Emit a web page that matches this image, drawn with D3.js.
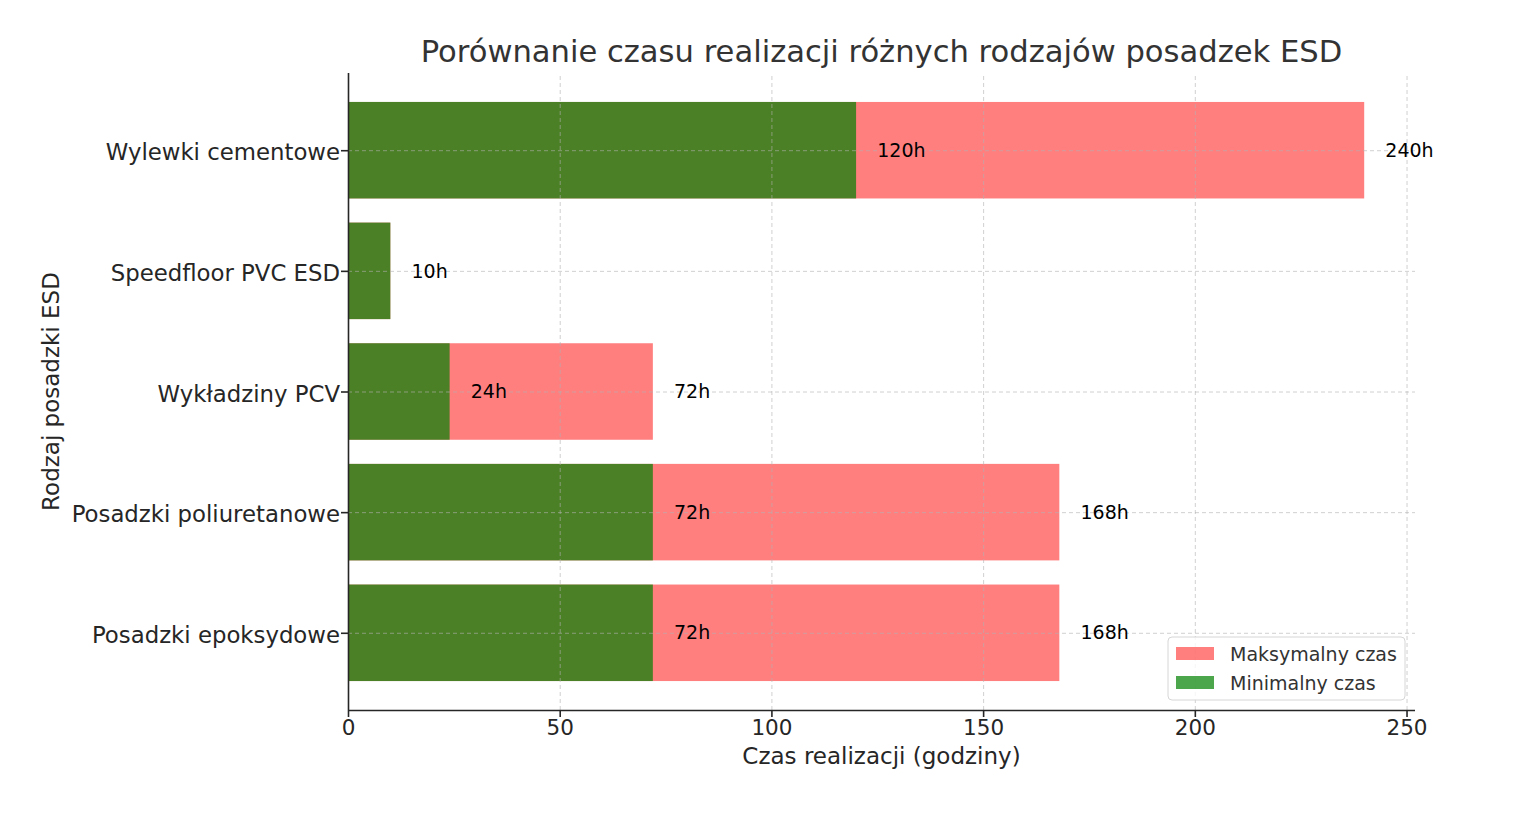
<!DOCTYPE html>
<html lang="pl">
<head>
<meta charset="utf-8">
<title>Porównanie czasu realizacji</title>
<script src="https://cdn.jsdelivr.net/npm/d3@7"></script>
<style>
  body { margin: 0; background: #fff; font-family: "DejaVu Sans", sans-serif; }
  text { font-family: "DejaVu Sans", sans-serif; }
  .grid line { stroke: #b0b0b0; stroke-opacity: 0.6; stroke-dasharray: 4,3; }
  .axis text { fill: #262626; font-family: "DejaVu Sans", sans-serif; }
</style>
</head>
<body>
<script>
// dane
var categories = ["Posadzki epoksydowe", "Posadzki poliuretanowe", "Wykładziny PCV", "Speedfloor PVC ESD", "Wylewki cementowe"];
var minTime = [72, 72, 24, 10, 120];
var maxTime = [168, 168, 72, 10, 240];
var xTicks = [0, 50, 100, 150, 200, 250];

var w = 1539, h = 814;
var margin = {left: 348, right: 124, top: 73, bottom: 104};

var svg = d3.select("body").append("svg")
  .attr("width", w)
  .attr("height", h);

var x = d3.scaleLinear()
  .domain([0, 252])
  .range([margin.left, w - margin.right]);

var y = d3.scaleLinear()
  .domain([-0.64, 4.64])
  .range([h - margin.bottom, margin.top]);

var bandH = Math.abs(y(0.8) - y(0));

var rows = categories.map(function(c, i) {
  return {name: c, min: minTime[i], max: maxTime[i], i: i};
});

// czerwone (max) pod spodem
svg.selectAll("rect.max")
  .data(rows)
  .enter()
  .append("rect")
  .attr("class", "max")
  .attr("x", x(0))
  .attr("y", function(d) { return y(d.i + 0.4); })
  .attr("width", function(d) { return x(d.max) - x(0); })
  .attr("height", bandH)
  .style("fill", "red")
  .style("fill-opacity", 0.5);

svg.selectAll("rect.min")
  .data(rows)
  .enter()
  .append("rect")
  .attr("class", "min")
  .attr("x", x(0))
  .attr("y", function(d) { return y(d.i + 0.4); })
  .attr("width", function(d) { return x(d.min) - x(0); })
  .attr("height", bandH)
  .style("fill", "green")
  .style("fill-opacity", 0.7);

// siatka na wierzchu
svg.append("g")
  .attr("class", "grid")
  .attr("transform", "translate(0," + (h - margin.bottom) + ")")
  .call(d3.axisBottom(x).tickValues(xTicks).tickSize(-(h - margin.bottom - margin.top)).tickFormat(""))
  .call(function(g) { g.select(".domain").remove(); });

svg.append("g")
  .attr("class", "grid")
  .attr("transform", "translate(" + margin.left + ",0)")
  .call(d3.axisLeft(y).tickValues(d3.range(categories.length)).tickSize(-(w - margin.right - margin.left)).tickFormat(""))
  .call(function(g) { g.select(".domain").remove(); });

// etykiety wartości
svg.selectAll("text.minlab")
  .data(rows.filter(function(d) { return d.min !== d.max; }))
  .enter()
  .append("text")
  .attr("x", function(d) { return x(d.min + 5); })
  .attr("y", function(d) { return y(d.i); })
  .attr("dy", "0.35em")
  .style("font-size", "19px")
  .text(function(d) { return d.min + "h"; });

svg.selectAll("text.maxlab")
  .data(rows)
  .enter()
  .append("text")
  .attr("x", function(d) { return x(d.max + 5); })
  .attr("y", function(d) { return y(d.i); })
  .attr("dy", "0.35em")
  .style("font-size", "19px")
  .text(function(d) { return d.max + "h"; });

// osie
var xAxis = svg.append("g")
  .attr("class", "axis")
  .attr("transform", "translate(0," + (h - margin.bottom) + ")")
  .call(d3.axisBottom(x).tickValues(xTicks).tickSize(7).tickPadding(3).tickSizeOuter(0));
xAxis.attr("font-family", null);
xAxis.selectAll("text").style("font-size", "21.5px");

var yAxis = svg.append("g")
  .attr("class", "axis")
  .attr("transform", "translate(" + margin.left + ",0)")
  .call(d3.axisLeft(y).tickValues(d3.range(categories.length))
    .tickFormat(function(i) { return categories[i]; })
    .tickSize(7).tickPadding(1).tickSizeOuter(0));
yAxis.attr("font-family", null);
yAxis.selectAll("text").style("font-size", "22.8px").attr("dy", "0.42em");
yAxis.select(".domain").attr("d", "M0.5," + (h - margin.bottom) + "V" + margin.top);
xAxis.select(".domain").attr("d", "M" + margin.left + ",0.5H" + (w - margin.right));
svg.selectAll(".axis .domain, .axis line").style("stroke", "#262626").style("stroke-width", 1.6);

// tytuły
svg.append("text")
  .attr("x", (margin.left + w - margin.right) / 2)
  .attr("y", 62)
  .attr("text-anchor", "middle")
  .style("font-size", "30.6px")
  .style("fill", "#333")
  .text("Porównanie czasu realizacji różnych rodzajów posadzek ESD");

svg.append("text")
  .attr("x", (margin.left + w - margin.right) / 2)
  .attr("y", 764)
  .attr("text-anchor", "middle")
  .style("font-size", "23px")
  .style("fill", "#262626")
  .text("Czas realizacji (godziny)");

svg.append("text")
  .attr("transform", "translate(59," + ((margin.top + h - margin.bottom) / 2) + ") rotate(-90)")
  .attr("text-anchor", "middle")
  .style("font-size", "23px")
  .style("fill", "#262626")
  .text("Rodzaj posadzki ESD");

// legenda
var legendItems = [
  {label: "Maksymalny czas", color: "red", op: 0.5},
  {label: "Minimalny czas", color: "green", op: 0.7}
];
var lg = svg.append("g").attr("transform", "translate(1168,637)");
lg.append("rect")
  .attr("width", 237).attr("height", 63)
  .attr("rx", 4)
  .style("fill", "#fff").style("fill-opacity", 0.8)
  .style("stroke", "#d6d6d6");
lg.selectAll("g.item")
  .data(legendItems)
  .enter()
  .append("g")
  .attr("transform", function(d, i) { return "translate(8," + (10 + i * 29) + ")"; })
  .each(function(d) {
    var g = d3.select(this);
    g.append("rect").attr("width", 38).attr("height", 13)
      .style("fill", d.color).style("fill-opacity", d.op);
    g.append("text").attr("x", 54).attr("y", 7).attr("dy", "0.35em")
      .style("font-size", "19px").style("fill", "#333").text(d.label);
  });
</script>
</body>
</html>
